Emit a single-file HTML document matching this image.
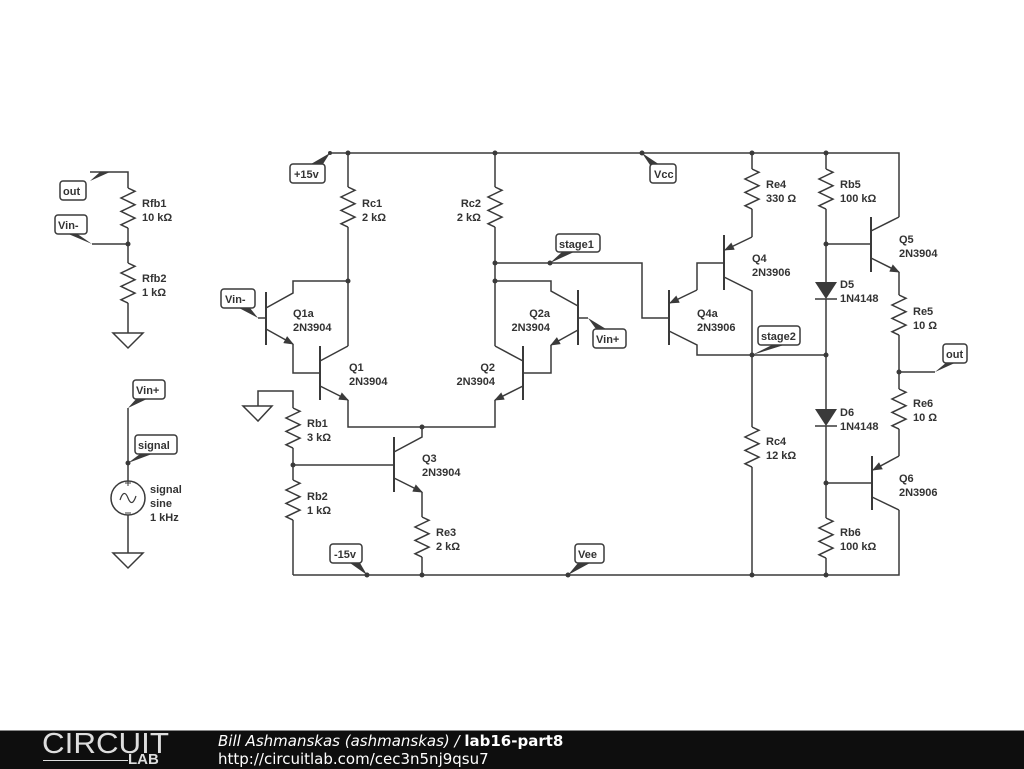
<!DOCTYPE html>
<html><head><meta charset="utf-8"><style>
html,body{margin:0;padding:0;background:#fff;}
body{width:1024px;height:768px;overflow:hidden;position:relative;}
svg text{font-family:"Liberation Sans",sans-serif;font-weight:bold;font-size:11px;fill:#333;}
.foot{position:absolute;left:0;top:730px;width:1024px;height:38px;background:#0e0e0e;border-top:1px solid #888;}
</style></head><body>
<svg width="1024" height="730" viewBox="0 0 1024 730" xmlns="http://www.w3.org/2000/svg">
<defs>
<path id="z" d="M0,0 l7,3.3 l-14,6.7 l14,6.7 l-14,6.7 l14,6.7 l-14,6.7 l7,3.3" fill="none" stroke="#3a3a3a" stroke-width="1.5"/>
<marker id="a" markerWidth="10" markerHeight="8" refX="9" refY="4" orient="auto" markerUnits="userSpaceOnUse"><path d="M0,0 L10,4 L0,8 z" fill="#3a3a3a"/></marker>
</defs>
<g stroke="#3a3a3a" stroke-width="1.5" fill="none">
<path d="M330,153 H899 V217"/>
<path d="M293,575 H899 V510"/>
<path d="M348,153 V187 M348,227 V346"/>
<path d="M348,281 H293 V293 L266,308"/>
<path d="M495,153 V187 M495,227 V346"/>
<path d="M495,263 H642 V318 H669"/>
<path d="M495,281 H551 V291 L578,306"/>
<path d="M266,292 V345" stroke-width="2"/>
<path d="M258,318 H266"/>
<path d="M266,329 L293,344" marker-end="url(#a)"/>
<path d="M293,344 V373 H320"/>
<path d="M320,346 V400" stroke-width="2"/>
<path d="M320,361 L348,346"/>
<path d="M320,386 L348,400" marker-end="url(#a)"/>
<path d="M348,400 V427 H495 V400"/>
<path d="M523,346 V400" stroke-width="2"/>
<path d="M523,361 L495,346"/>
<path d="M523,386 L495,400" marker-end="url(#a)"/>
<path d="M578,290 V345" stroke-width="2"/>
<path d="M578,318 H588"/>
<path d="M578,330 L551,345" marker-end="url(#a)"/>
<path d="M551,345 V373 H523"/>
<path d="M394,437 V492" stroke-width="2"/>
<path d="M293,465 H394"/>
<path d="M394,452 L422,437 V427"/>
<path d="M394,478 L422,492" marker-end="url(#a)"/>
<path d="M422,492 V517 M422,557 V575"/>
<path d="M258,406 V391 H293 V408 M293,448 V480 M293,520 V575"/>
<path d="M243,406 H272 L258,421 Z"/>
<path d="M752,153 V169 M752,209 V237"/>
<path d="M724,235 V290" stroke-width="2"/>
<path d="M752,237 L725,250" marker-end="url(#a)"/>
<path d="M724,277 L752,291 V427 M752,467 V575"/>
<path d="M724,263 H697 V290"/>
<path d="M669,290 V345" stroke-width="2"/>
<path d="M697,290 L670,303" marker-end="url(#a)"/>
<path d="M669,331 L697,345 V355 H826"/>
<path d="M826,153 V169 M826,209 V282 M826,299 V409 M826,426 V518 M826,558 V575"/>
<path d="M815,299 H837 M815,426 H837"/>
<path d="M871,217 V272" stroke-width="2"/>
<path d="M826,244 H871"/>
<path d="M871,231 L899,217"/>
<path d="M871,258 L899,272" marker-end="url(#a)"/>
<path d="M899,272 V295 M899,335 V389 M899,429 V456"/>
<path d="M899,372 H935"/>
<path d="M872,456 V510" stroke-width="2"/>
<path d="M899,456 L873,470" marker-end="url(#a)"/>
<path d="M826,483 H872"/>
<path d="M872,497 L899,510"/>
<path d="M90,172 H128 V188 M128,228 V263 M128,303 V333"/>
<path d="M92,244 H128"/>
<path d="M113,333 H143 L128,348 Z"/>
<path d="M128,408 V481 M128,515 V553"/>
<path d="M113,553 H143 L128,568 Z"/>
<circle cx="128" cy="498" r="17"/>
<path d="M120,500 q4,-12 8,-2 q4,10 8,-2" stroke-width="1.2"/>
<path d="M128,486 v-6 M125,483 h6 M125,513 h6" stroke-width="1"/>
</g>
<g fill="#3a3a3a">
<path d="M815,282 H837 L826,299 Z"/><path d="M815,409 H837 L826,426 Z"/>
<g stroke="none">
<use href="#z" x="348" y="187"/><use href="#z" x="495" y="187"/>
<use href="#z" x="293" y="408"/><use href="#z" x="293" y="480"/>
<use href="#z" x="422" y="517"/><use href="#z" x="752" y="169"/>
<use href="#z" x="752" y="427"/><use href="#z" x="826" y="169"/>
<use href="#z" x="826" y="518"/><use href="#z" x="899" y="295"/>
<use href="#z" x="899" y="389"/><use href="#z" x="128" y="188"/>
<use href="#z" x="128" y="263"/>
</g>
<g>
<circle cx="348" cy="153" r="2.5"/><circle cx="495" cy="153" r="2.5"/><circle cx="752" cy="153" r="2.5"/><circle cx="826" cy="153" r="2.5"/>
<circle cx="348" cy="281" r="2.5"/><circle cx="495" cy="263" r="2.5"/><circle cx="495" cy="281" r="2.5"/><circle cx="550" cy="263" r="2.5"/>
<circle cx="422" cy="427" r="2.5"/><circle cx="293" cy="465" r="2.5"/><circle cx="422" cy="575" r="2.5"/><circle cx="367" cy="575" r="2.5"/>
<circle cx="568" cy="575" r="2.5"/><circle cx="752" cy="575" r="2.5"/><circle cx="826" cy="575" r="2.5"/><circle cx="752" cy="355" r="2.5"/>
<circle cx="826" cy="355" r="2.5"/><circle cx="826" cy="244" r="2.5"/><circle cx="826" cy="483" r="2.5"/><circle cx="899" cy="372" r="2.5"/>
<circle cx="128" cy="244" r="2.5"/><circle cx="128" cy="463" r="2.5"/><circle cx="642" cy="153" r="2.5"/><circle cx="330" cy="153" r="2"/>
</g>
<polygon points="311,164 323,164 330,153"/>
<polygon points="650,165 660,165 642,153"/>
<polygon points="562,252 574,252 550,263"/>
<polygon points="772,345 784,345 752,355"/>
<polygon points="947,362 957,362 935,372"/>
<polygon points="360,563 350,563 367,575"/>
<polygon points="578,563 590,563 568,575"/>
<polygon points="596,329 606,329 588,318"/>
<polygon points="239,308 250,308 258,318"/>
<polygon points="100,172 110,172 90,181"/>
<polygon points="66,233 76,233 92,244"/>
<polygon points="137,398 149,398 128,408"/>
<polygon points="140,454 152,454 128,463"/>
</g>
<g fill="#fff" stroke="#3a3a3a" stroke-width="1.5">
<rect x="290" y="164" width="35" height="19" rx="3"/>
<rect x="650" y="164" width="26" height="19" rx="3"/>
<rect x="556" y="234" width="44" height="18" rx="3"/>
<rect x="758" y="326" width="42" height="19" rx="3"/>
<rect x="943" y="344" width="24" height="19" rx="3"/>
<rect x="330" y="544" width="32" height="19" rx="3"/>
<rect x="575" y="544" width="29" height="19" rx="3"/>
<rect x="593" y="329" width="33" height="19" rx="3"/>
<rect x="221" y="289" width="34" height="19" rx="3"/>
<rect x="60" y="181" width="26" height="19" rx="3"/>
<rect x="55" y="215" width="32" height="19" rx="3"/>
<rect x="133" y="380" width="32" height="19" rx="3"/>
<rect x="135" y="435" width="42" height="19" rx="3"/>
</g>
<g>
<text x="294" y="178">+15v</text><text x="654" y="178">Vcc</text><text x="559" y="248">stage1</text>
<text x="761" y="340">stage2</text><text x="946" y="358">out</text><text x="334" y="558">-15v</text>
<text x="578" y="558">Vee</text><text x="596" y="343">Vin+</text><text x="225" y="303">Vin-</text>
<text x="63" y="195">out</text><text x="58" y="229">Vin-</text><text x="136" y="394">Vin+</text><text x="138" y="449">signal</text>
<text x="362" y="207">Rc1</text><text x="362" y="221">2 kΩ</text>
<text x="481" y="207" text-anchor="end">Rc2</text><text x="481" y="221" text-anchor="end">2 kΩ</text>
<text x="293" y="317">Q1a</text><text x="293" y="331">2N3904</text>
<text x="349" y="371">Q1</text><text x="349" y="385">2N3904</text>
<text x="550" y="317" text-anchor="end">Q2a</text><text x="550" y="331" text-anchor="end">2N3904</text>
<text x="495" y="371" text-anchor="end">Q2</text><text x="495" y="385" text-anchor="end">2N3904</text>
<text x="307" y="427">Rb1</text><text x="307" y="441">3 kΩ</text>
<text x="307" y="500">Rb2</text><text x="307" y="514">1 kΩ</text>
<text x="422" y="462">Q3</text><text x="422" y="476">2N3904</text>
<text x="436" y="536">Re3</text><text x="436" y="550">2 kΩ</text>
<text x="766" y="188">Re4</text><text x="766" y="202">330 Ω</text>
<text x="752" y="262">Q4</text><text x="752" y="276">2N3906</text>
<text x="697" y="317">Q4a</text><text x="697" y="331">2N3906</text>
<text x="766" y="445">Rc4</text><text x="766" y="459">12 kΩ</text>
<text x="840" y="188">Rb5</text><text x="840" y="202">100 kΩ</text>
<text x="899" y="243">Q5</text><text x="899" y="257">2N3904</text>
<text x="840" y="288">D5</text><text x="840" y="302">1N4148</text>
<text x="913" y="315">Re5</text><text x="913" y="329">10 Ω</text>
<text x="913" y="407">Re6</text><text x="913" y="421">10 Ω</text>
<text x="840" y="416">D6</text><text x="840" y="430">1N4148</text>
<text x="899" y="482">Q6</text><text x="899" y="496">2N3906</text>
<text x="840" y="536">Rb6</text><text x="840" y="550">100 kΩ</text>
<text x="142" y="207">Rfb1</text><text x="142" y="221">10 kΩ</text>
<text x="142" y="282">Rfb2</text><text x="142" y="296">1 kΩ</text>
<text x="150" y="493">signal</text><text x="150" y="507">sine</text><text x="150" y="521">1 kHz</text>
</g>
</svg>
<div class="foot">
<div style="position:absolute;left:42px;top:-1px;font:300 29px 'Liberation Sans',sans-serif;color:#ddd;line-height:28px;transform:scaleX(1.08);transform-origin:left;">CIRCUIT</div>
<div style="position:absolute;left:43px;top:29px;width:85px;border-top:1px solid #ddd;"></div>
<div style="position:absolute;left:128px;top:21px;font:bold 15px 'Liberation Sans',sans-serif;color:#ddd;line-height:16px;">LAB</div>
<div style="position:absolute;left:218px;top:1px;font:italic 15px 'DejaVu Sans',sans-serif;color:#fff;">Bill Ashmanskas (ashmanskas) / <b style="font-style:normal">lab16-part8</b></div>
<div style="position:absolute;left:218px;top:19px;font:15px 'DejaVu Sans',sans-serif;color:#fff;">http://circuitlab.com/cec3n5nj9qsu7</div>
</div>
</body></html>
